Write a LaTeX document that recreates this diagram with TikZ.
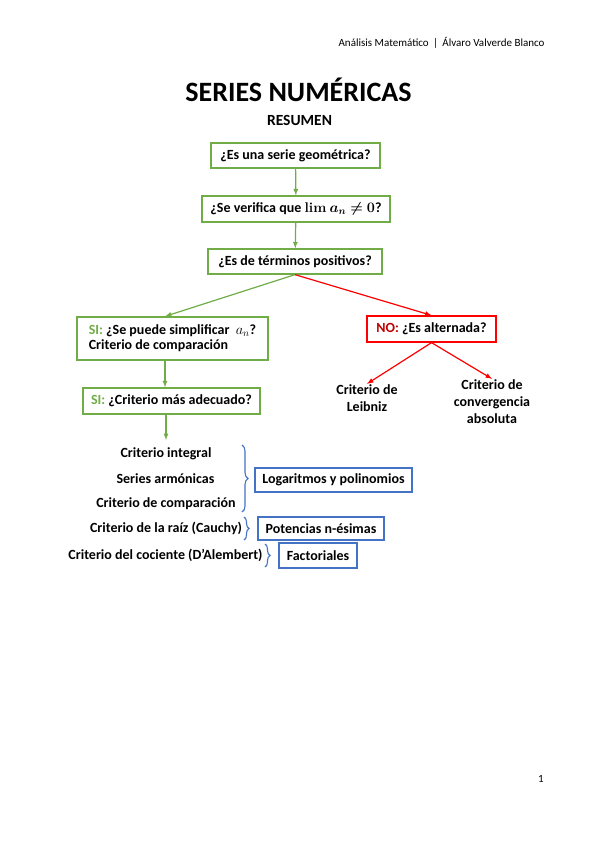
\documentclass[tikz,border=0pt]{standalone}
\usepackage{amsmath}
\usepackage{bm}
\usepackage{fontspec}
\setmainfont{Carlito}
\newfontfamily\lmserif{Latin Modern Roman}
\usepackage{tikz}
\usetikzlibrary{positioning, arrows, decorations.pathreplacing}

\definecolor{verde}{RGB}{112,173,71}
\definecolor{rojo}{RGB}{255,0,0}
\definecolor{rojotxt}{RGB}{192,0,0}
\definecolor{azul}{RGB}{68,114,196}

\tikzset{
    pregunta/.style={draw=verde, line width=1.3pt, fill=white, font=\bfseries\fontsize{14}{16}\selectfont, inner sep=2pt},
    pregno/.style={pregunta, draw=rojo},
    clave/.style={draw=azul, line width=1.1pt, font=\bfseries\fontsize{14}{16}\selectfont, inner sep=2pt},
    texto/.style={font=\bfseries\fontsize{14}{17}\selectfont, align=center, inner sep=1pt},
    llave/.style={draw=azul, line width=1.1pt, decorate, decoration={brace, amplitude=6pt}},
    flechav/.style={-latex, verde, line width=1.2pt},
    flechar/.style={-latex, rojo, line width=1.2pt},
}

\begin{document}
\begin{tikzpicture}[x=1pt, y=-1pt]
    \useasboundingbox (0,0) rectangle (599,848);

    \node[anchor=east, font=\fontsize{11}{13}\selectfont] (cabecera) at (548,43) {Análisis Matemático \,|\, Álvaro Valverde Blanco};
    \node[anchor=base, font=\bfseries\fontsize{28}{32}\selectfont] (titulo) at (298.5,102) {SERIES NUMÉRICAS};
    \node[anchor=base, font=\bfseries\fontsize{15.5}{18}\selectfont] (resumen) at (299.5,125) {RESUMEN};

    \node[pregunta, minimum width=169pt, minimum height=25pt] (geom) at (295.5,155.5) {¿Es una serie geométrica?};
    \node[pregunta, minimum width=188pt, minimum height=26pt] (lim) at (296,209) {¿Se verifica que {\lmserif\bfseries lim} $\bm{a_n \neq 0}$?};
    \node[pregunta, minimum width=174pt, minimum height=25pt] (pos) at (295,261.5) {¿Es de términos positivos?};

    \node[pregunta, minimum width=191pt, minimum height=43pt, align=left, font=\bfseries\fontsize{14}{15}\selectfont] (simpl) at (172.5,338.5)
        {{\color{verde}SI:} ¿Se puede simplificar\ \ $a_n$?\\Criterio de comparación};
    \node[pregunta, minimum width=177pt, minimum height=26pt] (adec) at (171.5,401) {{\color{verde}SI:} ¿Criterio más adecuado?};
    \node[pregno, minimum width=129pt, minimum height=26pt] (alt) at (431.5,329) {{\color{rojotxt}NO:} ¿Es alternada?};

    \node[texto] (leibniz) at (367,398.5) {Criterio de\\Leibniz};
    \node[texto] (absoluta) at (492,402) {Criterio de\\convergencia\\absoluta};

    \node[texto] (integral) at (166,454) {Criterio integral};
    \node[texto] (armonicas) at (165.5,479) {Series armónicas};
    \node[texto] (comparacion) at (166,504) {Criterio de comparación};
    \node[texto] (raiz) at (166,528) {Criterio de la raíz (Cauchy)};
    \node[texto] (cociente) at (165.5,555) {Criterio del cociente (D’Alembert)};
    \coordinate (flecha) at (166,440);

    \node[clave, minimum width=157pt, minimum height=24pt] (log) at (333.5,480) {Logaritmos y polinomios};
    \node[clave, minimum width=126pt, minimum height=23pt] (pot) at (321,528.5) {Potencias n-ésimas};
    \node[clave, minimum width=78pt, minimum height=25pt] (fact) at (318,555.5) {Factoriales};

    \node[font=\fontsize{11}{13}\selectfont] (pagina) at (541,779) {1};

    % flechas
    \draw[flechav] (geom) -- (lim);
    \draw[flechav] (lim) -- (pos);
    \draw[flechav] (pos.south) -- (simpl.north -| 165,0);
    \draw[flechar] (pos.south) -- (alt.north);
    \draw[flechar] (alt.south) -- (leibniz.north);
    \draw[flechar] (alt.south) -- (absoluta.north);
    \draw[flechav] (simpl.south -| 165,0) -- (adec.north -| 165,0);
    \draw[flechav] (adec.south -| 166,0) -- (flecha);

    % llaves
    \draw[llave] (242,445) -- (242,512);
    \draw[llave, decoration={amplitude=5pt}] (244,517) -- (244,540);
    \draw[llave, decoration={amplitude=5pt}] (265,544) -- (265,567);
\end{tikzpicture}
\end{document}
